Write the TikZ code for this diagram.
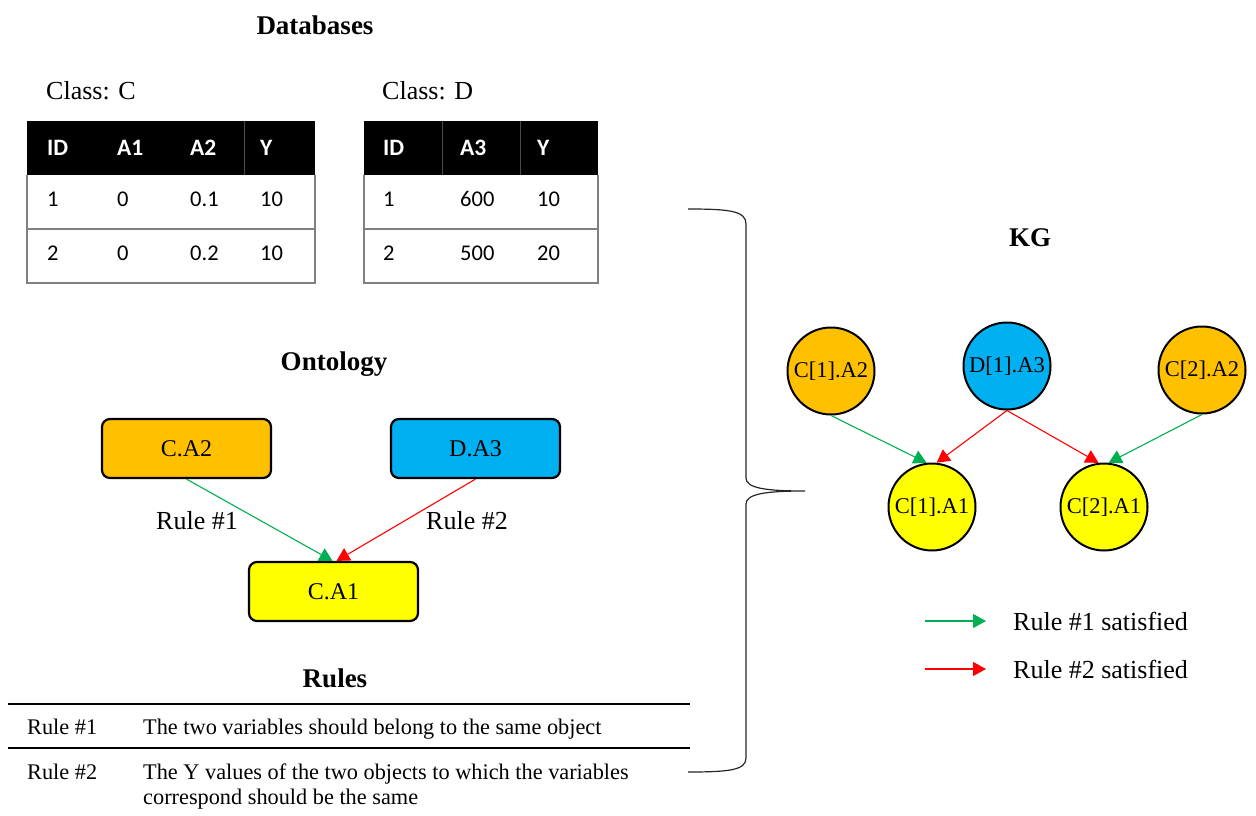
\documentclass[tikz,border=0pt]{standalone}
\usepackage{fontspec}
\setmainfont{Liberation Serif}
\newfontfamily\calib{Carlito}
\usetikzlibrary{arrows.meta}
\definecolor{cgreen}{HTML}{00B050}
\definecolor{cred}{HTML}{FF0000}
\definecolor{corange}{HTML}{FFC000}
\definecolor{cblue}{HTML}{00B0F0}
\definecolor{cyellow}{HTML}{FFFF00}
\definecolor{tgrey}{HTML}{808080}
\begin{document}
\begin{tikzpicture}[x=1pt,y=-1pt,
  title/.style={font=\fontsize{27}{30}\selectfont\bfseries, inner sep=0},
  lbl/.style={font=\fontsize{26}{30}\selectfont, inner sep=0},
  hd/.style={font=\calib\fontsize{23.5}{26}\selectfont\bfseries, text=white, inner sep=0, anchor=west},
  cell/.style={font=\calib\fontsize{22.5}{26}\selectfont, inner sep=0, anchor=west},
  rtxt/.style={font=\fontsize{22.3}{25}\selectfont, inner sep=0, anchor=north west, align=left},
  obox/.style={draw=black, line width=2.2pt, rounded corners=8pt, minimum width=169pt, minimum height=59pt, font=\fontsize{24}{28}\selectfont, inner sep=0},
  kgc/.style={draw=black, line width=2pt, circle, minimum size=87pt, inner sep=0, font=\fontsize{22.5}{26}\selectfont},
  tip/.style={-{Triangle[length=13pt,width=14pt]}},
  gedge/.style={tip, draw=cgreen, line width=1.1pt},
  redge/.style={tip, draw=cred, line width=1.1pt},
  tline/.style={draw=tgrey, line width=1.3pt},
  rline/.style={draw=black, line width=2.3pt}
]
\useasboundingbox (0,0) rectangle (1256,816);

% ---------- Databases ----------
\node[title] (tdb) at (315,25) {Databases};
\node[lbl, anchor=west] (clc) at (46,91) {Class: C};
\node[lbl, anchor=west] (cld) at (382,91) {Class: D};

% Table C
\fill[black] (27,121) rectangle (315,175);
\draw[draw=black!70, line width=0.8pt] (244,121) -- (244,175);
\draw[tline] (27,175) -- (27,283) -- (315,283) -- (315,175);
\draw[tline] (27,229) -- (315,229);
\node[hd] (c1) at (47,148) {ID};
\node[hd] (c2) at (117,148) {A1};
\node[hd] (c3) at (190,148) {A2};
\node[hd] (c4) at (260,148) {Y};
\node[cell] (c11) at (47,199) {1};
\node[cell] (c12) at (117,199) {0};
\node[cell] (c13) at (190,199) {0.1};
\node[cell] (c14) at (260,199) {10};
\node[cell] (c21) at (47,253) {2};
\node[cell] (c22) at (117,253) {0};
\node[cell] (c23) at (190,253) {0.2};
\node[cell] (c24) at (260,253) {10};

% Table D
\fill[black] (364,121) rectangle (598,175);
\draw[draw=black!70, line width=0.8pt] (442,121) -- (442,175);
\draw[draw=black!70, line width=0.8pt] (520,121) -- (520,175);
\draw[tline] (364,175) -- (364,283) -- (598,283) -- (598,175);
\draw[tline] (364,229) -- (598,229);
\node[hd] (d1) at (383,148) {ID};
\node[hd] (d2) at (460,148) {A3};
\node[hd] (d3) at (537,148) {Y};
\node[cell] (d11) at (383,199) {1};
\node[cell] (d12) at (460,199) {600};
\node[cell] (d13) at (537,199) {10};
\node[cell] (d21) at (383,253) {2};
\node[cell] (d22) at (460,253) {500};
\node[cell] (d23) at (537,253) {20};

% ---------- Ontology ----------
\node[title] (tont) at (334,364) {Ontology};
\node[obox, fill=corange] (oca2) at (186.5,448.5) {C.A2};
\node[obox, fill=cblue] (oda3) at (475.5,448.5) {D.A3};
\node[obox, fill=cyellow] (oca1) at (333.5,591.5) {C.A1};
\draw[gedge] (oca2.south) -- ([xshift=-1pt]oca1.north);
\draw[redge] (oda3.south) -- ([xshift=3pt]oca1.north);
\node[lbl] (r1l) at (197,521) {Rule \#1};
\node[lbl] (r2l) at (467,521) {Rule \#2};

% ---------- Rules ----------
\node[title] (trules) at (335,678) {Rules};
\draw[rline] (8,704) -- (690,704);
\draw[rline] (8,748) -- (690,748);
\node[rtxt] (ra) at (27,719) {Rule \#1};
\node[rtxt] (rb) at (143,719) {The two variables should belong to the same object};
\node[rtxt] (rc) at (27,764) {Rule \#2};
\node[rtxt] (rd) at (143,764) {The Y values of the two objects to which the variables\\correspond should be the same};

% ---------- Brace ----------
\coordinate (bt) at (688,209);
\coordinate (bb) at (688,772);
\coordinate (btip) at (805,491);
\draw[line width=1.2pt, draw=black!85]
  (bt) .. controls (730,209) and (746,211) .. (746,224)
  -- (746,478) .. controls (746,488) and (765,491) .. (btip)
  .. controls (765,491) and (746,494) .. (746,504)
  -- (746,758) .. controls (746,770) and (730,772) .. (bb);

% ---------- KG ----------
\node[title] (tkg) at (1030,238) {KG};
\node[kgc, fill=corange] (k12) at (831,371) {C[1].A2};
\node[kgc, fill=cblue] (k13) at (1007,366) {D[1].A3};
\node[kgc, fill=corange] (k22) at (1202,370) {C[2].A2};
\node[kgc, fill=cyellow] (k11) at (932,507) {C[1].A1};
\node[kgc, fill=cyellow] (k21) at (1104,507) {C[2].A1};
\draw[gedge] (k12.south) -- (k11.97);
\draw[redge] (k13.south) -- (k11.84);
\draw[redge] (k13.south) -- (k21.97);
\draw[gedge] (k22.south) -- (k21.84);

% ---------- Legend ----------
\coordinate (lg1a) at (925,621);
\coordinate (lg1b) at (986,621);
\coordinate (lg2a) at (925,669);
\coordinate (lg2b) at (986,669);
\draw[gedge] (lg1a) -- (lg1b);
\draw[redge] (lg2a) -- (lg2b);
\node[lbl, anchor=west] (lt1) at (1013,621) {Rule \#1 satisfied};
\node[lbl, anchor=west] (lt2) at (1013,669) {Rule \#2 satisfied};
\end{tikzpicture}
\end{document}
